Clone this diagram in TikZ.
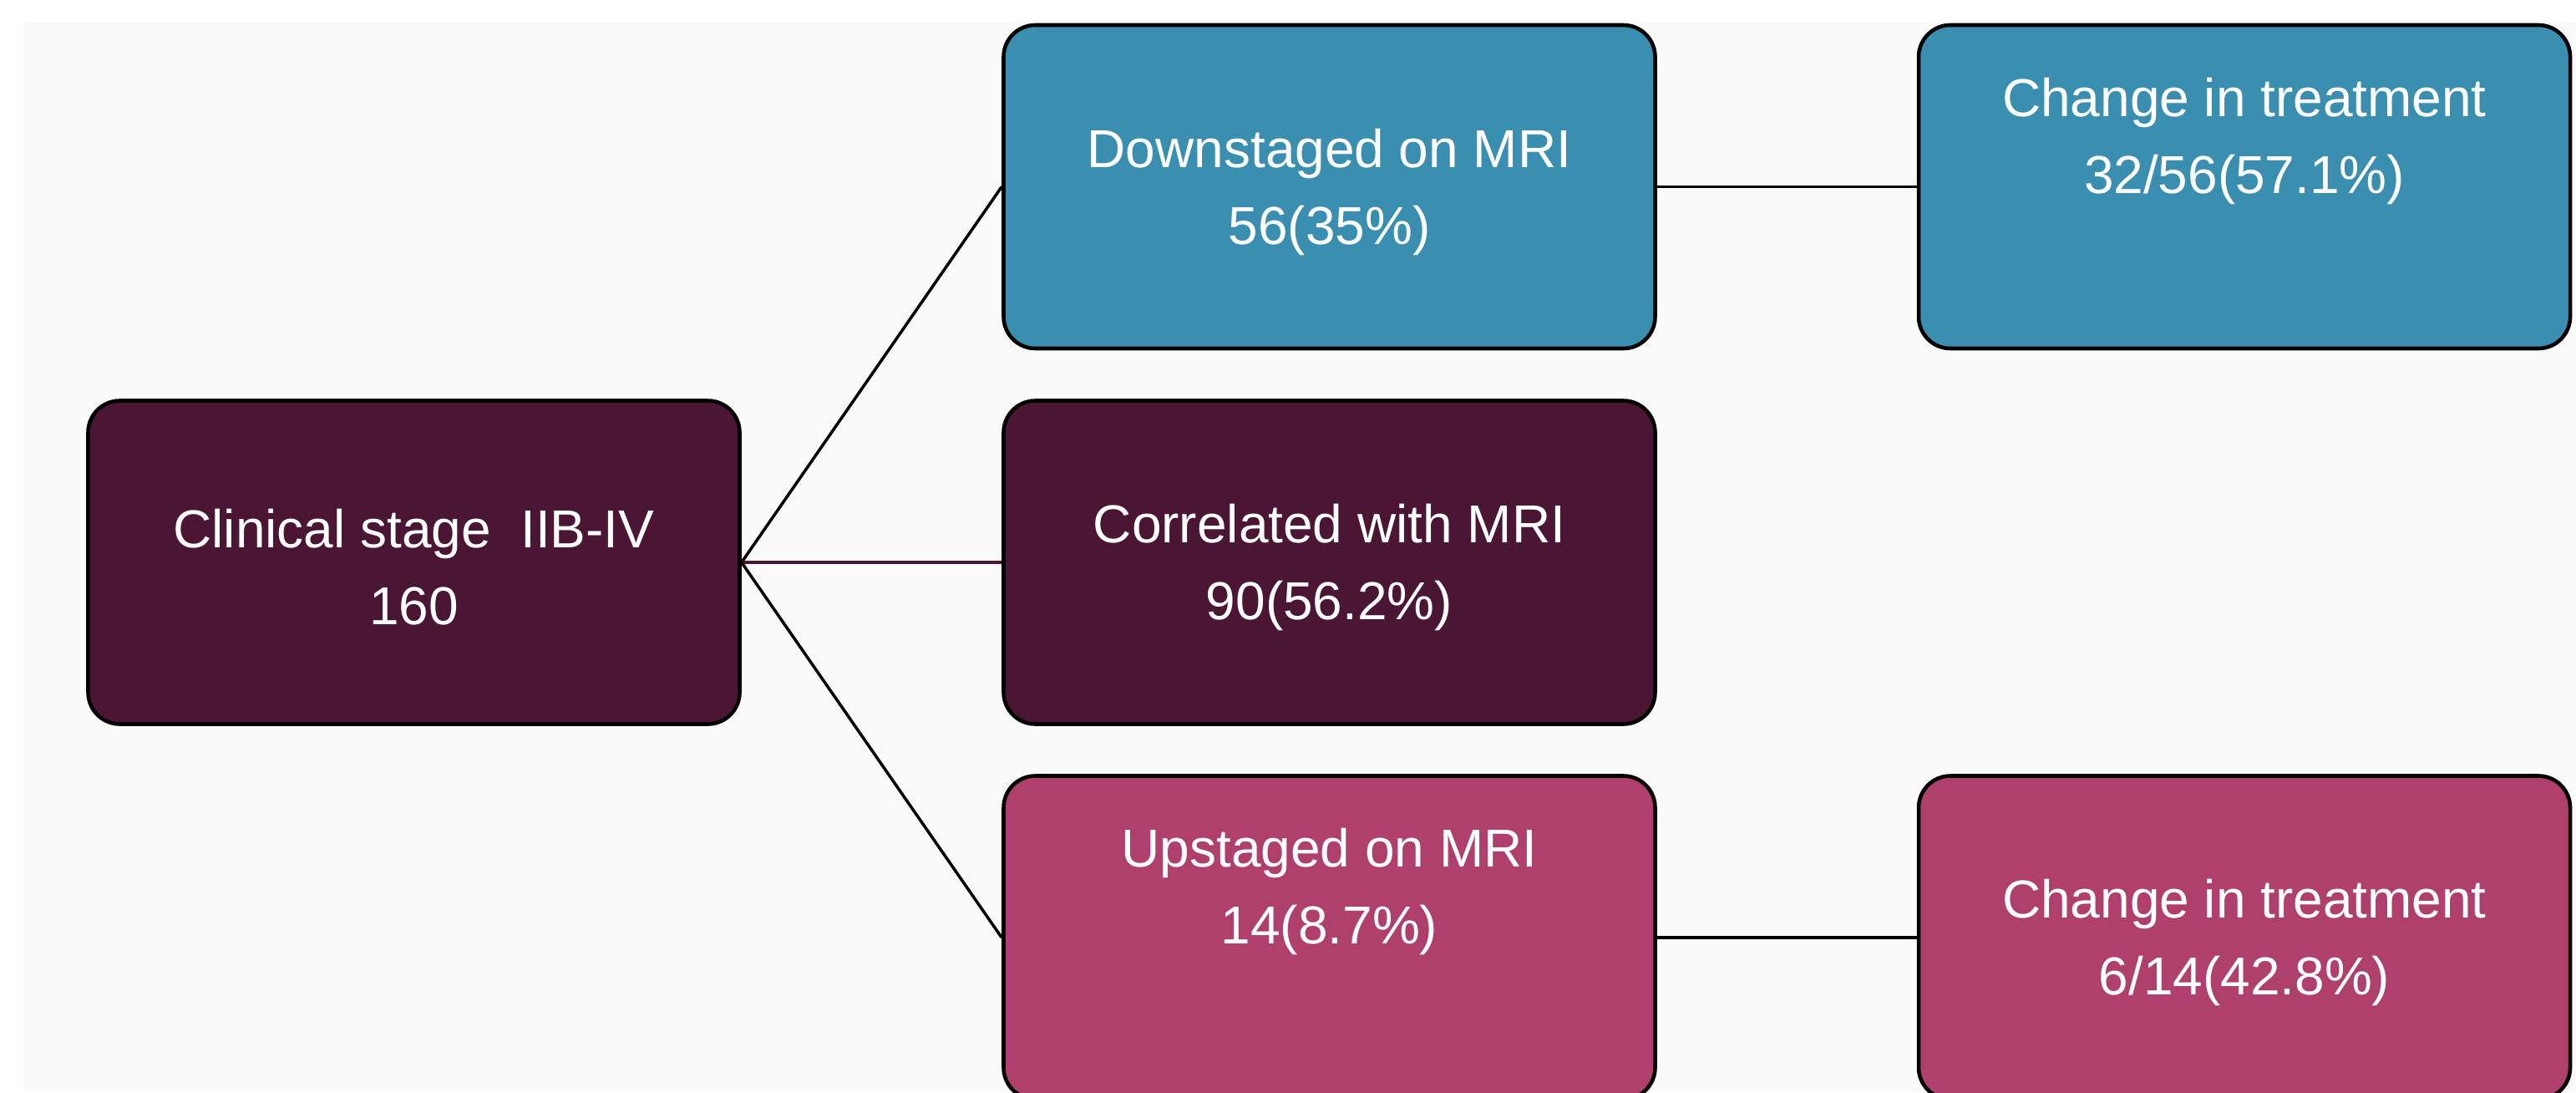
\documentclass[tikz,border=0pt]{standalone}
\usepackage{fontspec}
\setmainfont{Liberation Sans}
\definecolor{plum}{HTML}{4B1634}
\definecolor{teal}{HTML}{3A8EB0}
\definecolor{rose}{HTML}{AF3F6D}
\definecolor{paper}{HTML}{FAFAFA}
\begin{document}
\begin{tikzpicture}
\tikzstyle{stage}=[rectangle,rounded corners=0.38cm,draw=black,line width=1.3pt,minimum width=7.8cm,minimum height=3.87cm,inner sep=0pt]
\tikzstyle{txt}=[text=white,align=center,font=\fontsize{18.2}{26.2}\selectfont]
\tikzstyle{link}=[line width=1pt]

\useasboundingbox (0,0) rectangle (30.84,-13.07);
\fill[paper] (0.28,-0.27) rectangle (30.84,-13.07);

\node[stage,fill=plum] (clin) at (4.955,-6.73) {};
\node[stage,fill=teal] (down) at (15.915,-2.235) {};
\node[stage,fill=plum] (corr) at (15.915,-6.73) {};
\node[stage,fill=rose] (up) at (15.915,-11.22) {};
\node[stage,fill=teal] (chg1) at (26.87,-2.235) {};
\node[stage,fill=rose] (chg2) at (26.87,-11.22) {};

\node[txt] (clintxt) at ([yshift=-0.06cm]clin.center) {Clinical stage~~IIB-IV\\160};
\node[txt] (downtxt) at ([yshift=-0.06cm]down.center) {Downstaged on MRI\\56(35\%)};
\node[txt] (corrtxt) at ([yshift=-0.06cm]corr.center) {Correlated with MRI\\90(56.2\%)};
\node[txt] (uptxt) at ([yshift=0.55cm]up.center) {Upstaged on MRI\\14(8.7\%)};
\node[txt] (chg1txt) at ([yshift=0.55cm]chg1.center) {Change in treatment\\32/56(57.1\%)};
\node[txt] (chg2txt) at ([yshift=-0.06cm]chg2.center) {Change in treatment\\6/14(42.8\%)};

\draw[link] (clin.east) -- (down.west);
\draw[link,draw=plum] (clin.east) -- (corr.west);
\draw[link] (clin.east) -- (up.west);
\draw[link] (down.east) -- (chg1.west);
\draw[link] (up.east) -- (chg2.west);

\end{tikzpicture}
\end{document}
